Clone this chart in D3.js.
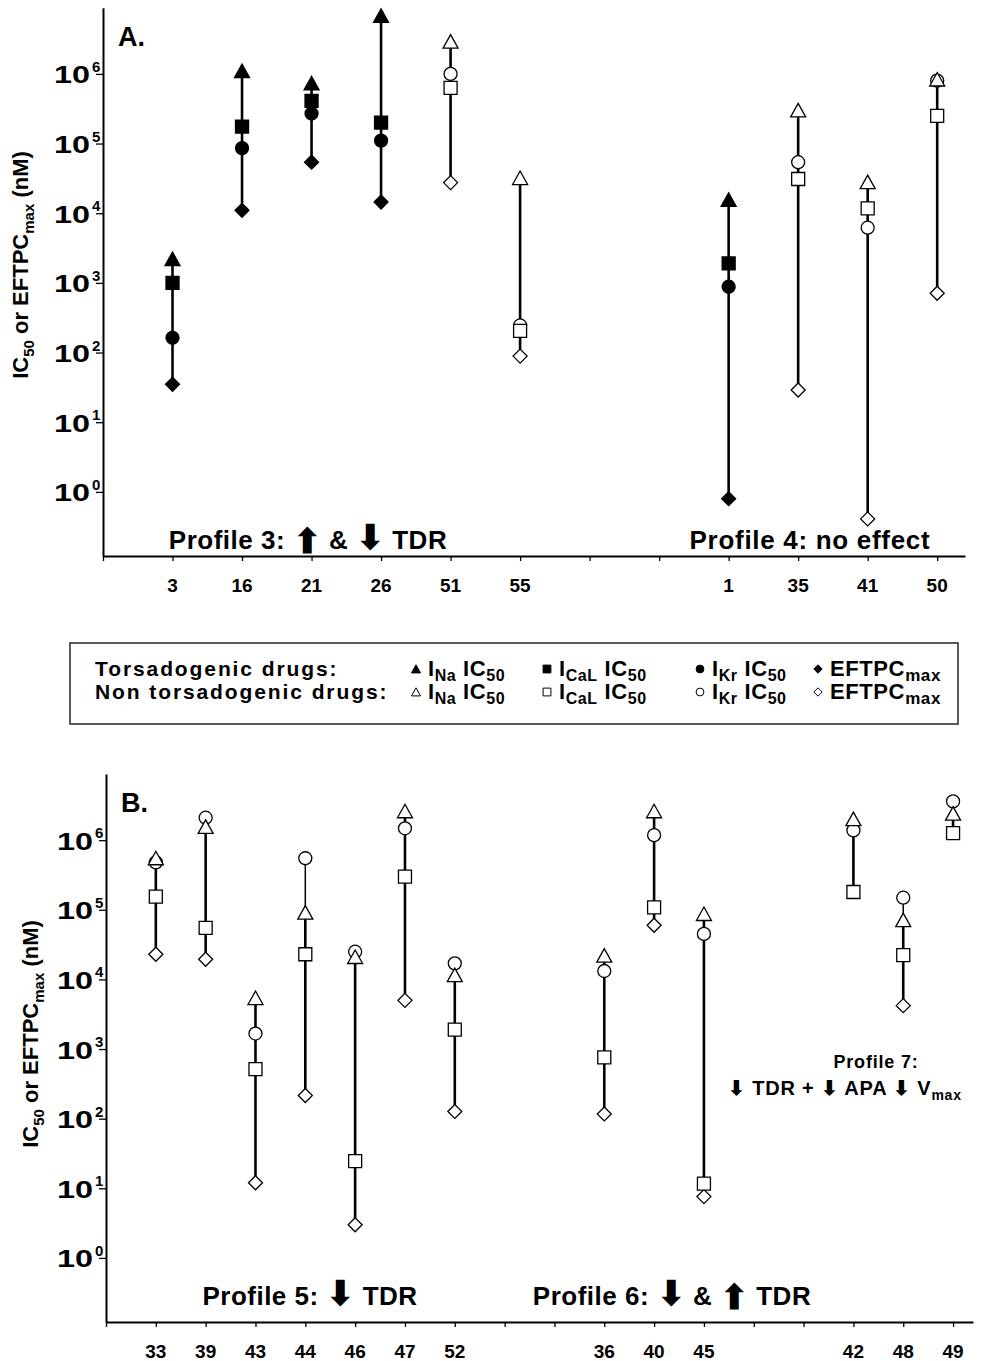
<!DOCTYPE html>
<html>
<head>
<meta charset="utf-8">
<script src="https://cdn.jsdelivr.net/npm/d3@7"></script>
<style>
  body { margin: 0; background: #fff; }
  svg { display: block; font-family: "Liberation Sans", Arial, sans-serif; font-weight: bold; }
</style>
</head>
<body>
<svg id="chart" width="989" height="1361"></svg>
<script>
// ---- panel A data (empty category = gap on the axis)
var catA  = ['3', '16', '21', '26', '51', '55', '', '', '1', '35', '41', '50']
var torsA = [1, 1, 1, 1, 0, 0, 0, 0, 1, 0, 0, 0]
var naA   = [2200, 1.1e6, 7.3e5, 6.8e6, 2.9e6, 3.2e4, null, null, 1.56e4, 3.0e5, 2.8e4, 8.3e5]
var calA  = [1000, 1.75e5, 4.1e5, 2.0e5, 6.3e5, 205, null, null, 1900, 3.1e4, 1.17e4, 2.5e5]
var krA   = [163, 8.6e4, 2.7e5, 1.1e5, 1.0e6, 245, null, null, 880, 5.4e4, 6.2e3, 8.0e5]
var eftA  = [35, 1.1e4, 5.4e4, 1.45e4, 2.75e4, 89, null, null, 0.8, 29, 0.41, 710]

// ---- panel B data (all non torsadogenic)
var catB  = ['33', '39', '43', '44', '46', '47', '52', '', '', '36', '40', '45', '', '', '42', '48', '49']
var torsB = [0, 0, 0, 0, 0, 0, 0, 0, 0, 0, 0, 0, 0, 0, 0, 0, 0]
var naB   = [5.5e5, 1.55e6, 5.4e3, 9.1e4, 2.1e4, 2.6e6, 1.15e4, null, null, 2.2e4, 2.6e6, 8.7e4, null, null, 2.0e6, 7.1e4, 2.4e6]
var calB  = [1.55e5, 5.5e4, 515, 2.3e4, 24.5, 3.0e5, 1.9e3, null, null, 760, 1.08e5, 11.7, null, null, 1.8e5, 2.23e4, 1.26e6]
var krB   = [4.8e5, 2.1e6, 1.67e3, 5.5e5, 2.5e4, 1.48e6, 1.7e4, null, null, 1.32e4, 1.18e6, 4.5e4, null, null, 1.38e6, 1.49e5, 3.6e6]
var eftB  = [2.3e4, 1.95e4, 12, 215, 3, 5.0e3, 127, null, null, 117, 6.0e4, 7.6, null, null, null, 4.2e3, null]

var decades = [1, 10, 100, 1e3, 1e4, 1e5, 1e6]
var exponents = ['0', '1', '2', '3', '4', '5', '6']

var UP = '\u2B06', DOWN = '\u2B07'

var svg = d3.select('#chart')

// marker shapes
var shapes = {
  tri: function (s) { return 'M0,' + (-7 * s) + 'L' + (7.5 * s) + ',' + (6.5 * s) + 'L' + (-7.5 * s) + ',' + (6.5 * s) + 'Z' },
  sq: function (s) { var h = 6.5 * s; return 'M' + -h + ',' + -h + 'H' + h + 'V' + h + 'H' + -h + 'Z' },
  circ: function (s) { var r = 6.5 * s; return 'M' + r + ',0A' + r + ',' + r + ' 0 1,1 ' + -r + ',0A' + r + ',' + r + ' 0 1,1 ' + r + ',0Z' },
  dia: function (s) { return 'M0,' + (-7 * s) + 'L' + (7 * s) + ',0L0,' + (7 * s) + 'L' + (-7 * s) + ',0Z' }
}

// mixed text: parts = [[str, fontSize, baselineOffset], ...]
function mixed (sel, parts) {
  var shift = 0
  parts.forEach(function (p) {
    var want = p[2] || 0
    sel.append('tspan')
      .attr('dy', want - shift)
      .attr('font-size', p[1])
      .text(p[0])
    shift = want
  })
  return sel
}

function panel (o) {
  var x = d3.scaleLinear().domain([0, o.xMax]).range([o.x0, o.x1])
  var y = d3.scaleLog().domain([Math.pow(10, -0.92), Math.pow(10, 6.95)]).range([o.y0, o.y1])

  var minor = []
  for (var e = 0; e < 7; e++) {
    for (var m = 2; m < 10; m++) {
      if (m * Math.pow(10, e) < Math.pow(10, 6.95)) minor.push(m * Math.pow(10, e))
    }
  }

  var g = svg.append('g')

  // y axis
  var ya = g.append('g').attr('transform', 'translate(' + o.x0 + ',0)')
  ya.call(d3.axisLeft(y).tickValues(minor).tickSize(4).tickSizeOuter(0).tickFormat(''))
  ya.call(d3.axisLeft(y).tickValues(decades).tickSize(7).tickSizeOuter(0).tickFormat(''))
  ya.selectAll('.domain').attr('stroke-width', 2)
  ya.selectAll('.tick line').attr('stroke-width', 1.3)

  decades.forEach(function (d, i) {
    g.append('text')
      .attr('x', o.x0 - 13)
      .attr('y', y(d) + 9.5)
      .attr('text-anchor', 'end')
      .attr('font-size', 23.5)
      .attr('textLength', 36)
      .attr('lengthAdjust', 'spacingAndGlyphs')
      .text('10')
    g.append('text')
      .attr('x', o.x0 - 11)
      .attr('y', y(d) - 2)
      .attr('font-size', 15)
      .text(exponents[i])
  })

  // x axis
  var xa = g.append('g').attr('transform', 'translate(0,' + o.y0 + ')')
  xa.call(d3.axisBottom(x).tickValues(d3.range(0, o.cats.length + 1)).tickSize(5).tickSizeOuter(0).tickFormat(''))
  xa.selectAll('.domain').attr('stroke-width', 2)
  xa.selectAll('.tick line').attr('stroke-width', 1.3)

  o.cats.forEach(function (c, i) {
    if (!c) return
    g.append('text')
      .attr('x', x(i + 1))
      .attr('y', o.y0 + 36)
      .attr('text-anchor', 'middle')
      .attr('font-size', 19)
      .text(c)
  })

  // y title
  mixed(g.append('text')
    .attr('transform', 'translate(' + o.titleX + ',' + o.titleY + ') rotate(-90)')
    .attr('text-anchor', 'middle'),
    [['IC', 22], ['50', 15, 6], [' or EFTPC', 22], ['max', 15, 6], [' (nM)', 22]])

  // panel letter
  g.append('text').attr('x', o.x0 + 15).attr('y', o.y1 + 38).attr('font-size', 27).text(o.letter)

  // range lines
  o.cats.forEach(function (c, i) {
    if (!c) return
    var all = [o.na[i], o.cal[i], o.kr[i], o.eft[i]].filter(function (v) { return v != null })
    var main = [o.na[i], o.cal[i], o.eft[i]].filter(function (v) { return v != null })
    var lo = d3.min(all), hiMain = d3.max(main), hi = d3.max(all)
    g.append('line')
      .attr('x1', x(i + 1)).attr('x2', x(i + 1))
      .attr('y1', y(lo)).attr('y2', y(hiMain))
      .attr('stroke', '#000').attr('stroke-width', 2.6)
    if (hi > hiMain) {
      g.append('line')
        .attr('x1', x(i + 1)).attr('x2', x(i + 1))
        .attr('y1', y(hiMain)).attr('y2', y(hi))
        .attr('stroke', '#000').attr('stroke-width', 1.5)
    }
  })

  // markers: diamond, circle, square, triangle (triangle on top)
  var series = [['dia', o.eft], ['circ', o.kr], ['sq', o.cal], ['tri', o.na]]
  series.forEach(function (s) {
    o.cats.forEach(function (c, i) {
      var v = s[1][i]
      if (!c || v == null) return
      g.append('path')
        .attr('d', shapes[s[0]](1))
        .attr('transform', 'translate(' + x(i + 1) + ',' + y(v) + ')')
        .attr('fill', o.tors[i] ? '#000' : '#fff')
        .attr('stroke', '#000')
        .attr('stroke-width', 1.3)
    })
  })

  // profile labels
  o.labels.forEach(function (l) {
    mixed(g.append('text')
      .attr('x', l.x).attr('y', l.y)
      .attr('text-anchor', l.anchor || 'middle')
      .attr('letter-spacing', l.ls || 0), l.parts)
  })
  return g
}

panel({
  letter: 'A.', cats: catA, tors: torsA, na: naA, cal: calA, kr: krA, eft: eftA,
  xMax: 12.4, x0: 103, x1: 965, y0: 556, y1: 7.7, titleX: 28, titleY: 265,
  labels: [
    { x: 308, y: 549, ls: 0.5, parts: [['Profile 3: ', 26], [UP, 34, 4], [' & ', 26], [DOWN, 34], [' TDR', 26]] },
    { x: 810, y: 549, ls: 0.7, parts: [['Profile 4: no effect', 26]] }
  ]
})

panel({
  letter: 'B.', cats: catB, tors: torsB, na: naB, cal: calB, kr: krB, eft: eftB,
  xMax: 17.4, x0: 106, x1: 973, y0: 1322, y1: 774, titleX: 38, titleY: 1034,
  labels: [
    { x: 310, y: 1305, ls: 0.5, parts: [['Profile 5: ', 26], [DOWN, 34], [' TDR', 26]] },
    { x: 672, y: 1305, ls: 0.5, parts: [['Profile 6: ', 26], [DOWN, 34], [' & ', 26], [UP, 34, 4], [' TDR', 26]] },
    { x: 876, y: 1068, ls: 0.8, parts: [['Profile 7:', 18]] },
    { x: 728, y: 1095, anchor: 'start', ls: 0.8,
      parts: [[DOWN, 20], [' TDR + ', 20], [DOWN, 20], [' APA  ', 20], [DOWN, 20], [' V', 20], ['max', 14, 5]] }
  ]
})

// ---- legend
var lg = svg.append('g')
lg.append('rect')
  .attr('x', 70).attr('y', 643).attr('width', 888).attr('height', 81)
  .attr('fill', '#fff').attr('stroke', '#333').attr('stroke-width', 1.6)

var legendRows = ['Torsadogenic drugs:', 'Non torsadogenic drugs:']
var legendShapes = ['tri', 'sq', 'circ', 'dia']
var legendLabels = [
  [['I', 22], ['Na', 16, 5], [' IC', 22], ['50', 16, 5]],
  [['I', 22], ['CaL', 16, 5], [' IC', 22], ['50', 16, 5]],
  [['I', 22], ['Kr', 16, 5], [' IC', 22], ['50', 16, 5]],
  [['EFTPC', 22], ['max', 17, 5]]
]
var legendX = [416, 547, 700, 818]
var rowY = [676, 699]

legendRows.forEach(function (r, ri) {
  lg.append('text')
    .attr('x', 95).attr('y', rowY[ri])
    .attr('font-size', 21)
    .attr('letter-spacing', 1.9)
    .text(r)
  legendShapes.forEach(function (s, si) {
    lg.append('path')
      .attr('d', shapes[s](0.6))
      .attr('transform', 'translate(' + legendX[si] + ',' + (rowY[ri] - 7) + ')')
      .attr('fill', ri === 0 ? '#000' : '#fff')
      .attr('stroke', '#000')
      .attr('stroke-width', 1)
    mixed(lg.append('text')
      .attr('x', legendX[si] + 12).attr('y', rowY[ri])
      .attr('letter-spacing', 0.6), legendLabels[si])
  })
})
</script>
</body>
</html>
